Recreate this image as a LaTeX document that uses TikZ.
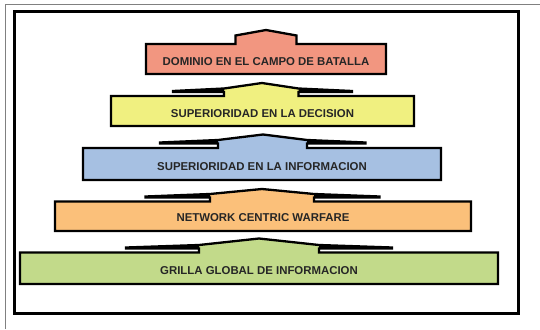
\documentclass[tikz,border=0pt]{standalone}
\usepackage{fontspec}
\setmainfont{Liberation Sans}
\definecolor{cred}{RGB}{242,150,128}
\definecolor{cyellow}{RGB}{240,240,128}
\definecolor{cblue}{RGB}{166,192,226}
\definecolor{corange}{RGB}{251,192,122}
\definecolor{cgreen}{RGB}{194,218,138}
\definecolor{cframe}{RGB}{128,128,128}
\tikzset{
  tier/.style={draw=black, line width=2.3pt, line join=miter, miter limit=4},
  wing/.style={fill=black},
  lbl/.style={font=\fontsize{11.4}{13}\selectfont\bfseries, text=black!85, inner sep=0pt},
}
\begin{document}
\begin{tikzpicture}[x=1pt,y=-1pt]
\useasboundingbox (0,0) rectangle (540,329);
\fill[white] (0,0) rectangle (540,329);
% outer gray frame lines
\draw[cframe, line width=1.5pt] (5.5,329) -- (5.5,4.5) -- (540,4.5);
% inner black frame
\draw[black, line width=3pt] (14,11.5) rectangle (518,313);
% red tier
\draw[tier, fill=cred] (146,74) -- (146,44) -- (235.5,44) -- (235.5,35.5) -- (266,30) -- (296.5,35.5) -- (296.5,44) -- (386,44) -- (386,74) -- cycle;
\node[lbl] (t1) at (266,62) {DOMINIO EN EL CAMPO DE BATALLA};
% yellow tier
\draw[tier, fill=cyellow] (111,126) -- (111,96) -- (224,96) -- (224,92) -- (173,92) -- (173,91) -- (224,88.5) -- (262,83) -- (298.5,88.5) -- (352,91) -- (352,92) -- (298.5,92) -- (298.5,96) -- (414,96) -- (414,126) -- cycle;
\fill[wing] (173,92) -- (173,91) -- (224,88.5) -- (224,92) -- cycle;
\fill[wing] (352,92) -- (352,91) -- (298.5,88.5) -- (298.5,92) -- cycle;
\node[lbl] (t2) at (262.5,113.5) {SUPERIORIDAD EN LA DECISION};
% blue tier
\draw[tier, fill=cblue] (83,180) -- (83,148) -- (218,148) -- (218,143.5) -- (160,143.5) -- (160,142.5) -- (218,140) -- (263,134.5) -- (307,140) -- (365.5,142.5) -- (365.5,143.5) -- (307,143.5) -- (307,148) -- (441,148) -- (441,180) -- cycle;
\fill[wing] (160,143.5) -- (160,142.5) -- (218,140) -- (218,143.5) -- cycle;
\fill[wing] (365.5,143.5) -- (365.5,142.5) -- (307,140) -- (307,143.5) -- cycle;
\node[lbl] (t3) at (262,167) {SUPERIORIDAD EN LA INFORMACION};
% orange tier
\draw[tier, fill=corange] (55,231) -- (55,201.5) -- (210,201.5) -- (210,197.5) -- (145.5,197.5) -- (145.5,196.5) -- (210,194) -- (262,189) -- (314,194) -- (379.5,196.5) -- (379.5,197.5) -- (314,197.5) -- (314,201.5) -- (471,201.5) -- (471,231) -- cycle;
\fill[wing] (145.5,197.5) -- (145.5,196.5) -- (210,194) -- (210,197.5) -- cycle;
\fill[wing] (379.5,197.5) -- (379.5,196.5) -- (314,194) -- (314,197.5) -- cycle;
\node[lbl] (t4) at (263,217.5) {NETWORK CENTRIC WARFARE};
% green tier
\draw[tier, fill=cgreen] (20,284) -- (20,252.5) -- (199,252.5) -- (199,248.5) -- (126,248.5) -- (126,247.5) -- (199,245) -- (259,238.5) -- (319,245) -- (392,247.5) -- (392,248.5) -- (319,248.5) -- (319,252.5) -- (498,252.5) -- (498,284) -- cycle;
\fill[wing] (126,248.5) -- (126,247.5) -- (199,245) -- (199,248.5) -- cycle;
\fill[wing] (392,248.5) -- (392,247.5) -- (319,245) -- (319,248.5) -- cycle;
\node[lbl] (t5) at (259,270.4) {GRILLA GLOBAL DE INFORMACION};
\end{tikzpicture}
\end{document}
